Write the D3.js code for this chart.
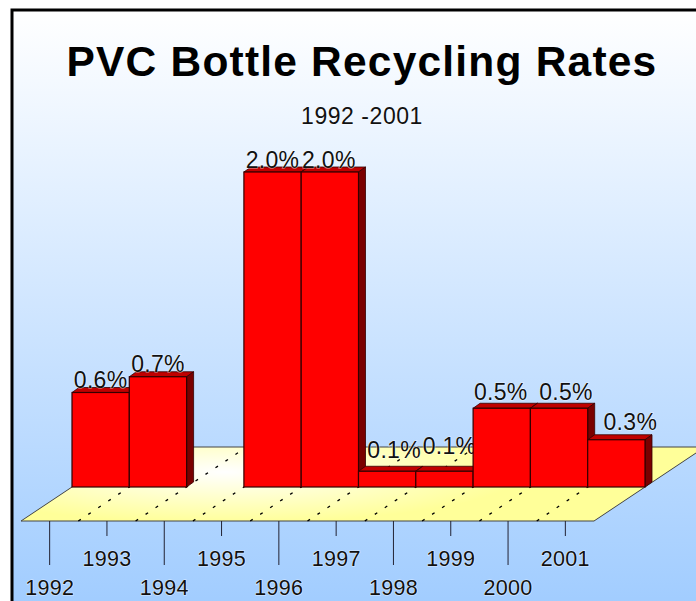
<!DOCTYPE html>
<html lang="en">

<head>
	<meta charset="utf-8">
	<title>PVC Bottle Recycling Rates</title>
	<script src="https://cdn.jsdelivr.net/npm/d3@7"></script>
	<style>
		html, body { margin: 0; padding: 0; background: #fff; overflow: hidden; }
		svg { display: block; }
		text { font-family: "Liberation Sans", Arial, sans-serif; fill: #111; }
		.halo { paint-order: stroke; stroke: #fff; stroke-opacity: 0.6; stroke-width: 1.2px; }
	</style>
</head>

<body>
	<script>
		const years = ["1992", "1993", "1994", "1995", "1996", "1997", "1998", "1999", "2000", "2001"];
		const rates = [0.6, 0.7, 0, 2.0, 2.0, 0.1, 0.1, 0.5, 0.5, 0.3];
		const rateLabels = ["0.6%", "0.7%", "", "2.0%", "2.0%", "0.1%", "0.1%", "0.5%", "0.5%", "0.3%"];
		const chartTitle = "PVC Bottle Recycling Rates";
		const chartSubtitle = "1992 -2001";

		const w = 696, h = 601;

		// bars stand half way back on the floor, floor front edge is lower left
		const barLeft = 72, barRight = 645, baseY = 487;
		const floorFrontY = 521, floorBackY = 447;
		const skew = 1.5;                 // dx per dy of the receding edges
		const depthX = 7, depthY = 5;     // depth of a bar

		const xScale = d3.scaleBand().domain(years).range([barLeft, barRight]);
		const yScale = d3.scaleLinear().domain([0, 2]).range([baseY, 172]);
		const frontShift = (floorFrontY - baseY) * skew;
		const xFront = d3.scaleBand().domain(years).range([barLeft - frontShift, barRight - frontShift]);

		const svg = d3.select("body").append("svg")
			.attr("width", w)
			.attr("height", h);

		const defs = svg.append("defs");

		const bg = defs.append("linearGradient")
			.attr("id", "bg")
			.attr("x1", 0).attr("y1", 0).attr("x2", 0).attr("y2", 1);
		bg.append("stop").attr("offset", "0%").attr("stop-color", "#ffffff");
		bg.append("stop").attr("offset", "100%").attr("stop-color", "#a0ccff");

		const floorFill = defs.append("radialGradient")
			.attr("id", "floorFill")
			.attr("gradientUnits", "userSpaceOnUse")
			.attr("cx", 225).attr("cy", 472).attr("r", 300)
			.attr("gradientTransform", "translate(225 472) scale(1 0.17) translate(-225 -472)");
		floorFill.append("stop").attr("offset", "0%").attr("stop-color", "#ffffff");
		floorFill.append("stop").attr("offset", "100%").attr("stop-color", "#ffff99");

		// background with the heavy frame on top and left
		svg.append("rect")
			.attr("x", 12).attr("y", 10)
			.attr("width", w).attr("height", h)
			.attr("fill", "url(#bg)")
			.attr("stroke", "#000")
			.attr("stroke-width", 3);

		svg.append("text")
			.attr("x", 362).attr("y", 76)
			.attr("text-anchor", "middle")
			.attr("font-size", "42.5px")
			.attr("font-weight", "bold")
			.attr("letter-spacing", "1.2px")
			.style("fill", "#000")
			.text(chartTitle);

		svg.append("text")
			.attr("class", "halo")
			.attr("x", 362).attr("y", 124)
			.attr("text-anchor", "middle")
			.attr("font-size", "23px")
			.attr("letter-spacing", "0.55px")
			.text(chartSubtitle);

		// floor
		const floorLeft = barLeft - frontShift;
		const floorRight = barRight - frontShift;
		const backShift = (floorFrontY - floorBackY) * skew;
		svg.append("polygon")
			.attr("points", [
				[floorLeft, floorFrontY],
				[floorRight, floorFrontY],
				[floorRight + backShift, floorBackY],
				[floorLeft + backShift, floorBackY]
			].join(" "))
			.attr("fill", "url(#floorFill)")
			.attr("stroke", "#444")
			.attr("stroke-width", 1);

		// dashed grid lines going back over the floor
		svg.selectAll(".floor-grid")
			.data(years.slice(1))
			.enter()
			.append("line")
			.attr("class", "floor-grid")
			.attr("x1", d => xFront(d))
			.attr("y1", floorFrontY)
			.attr("x2", d => xFront(d) + backShift)
			.attr("y2", floorBackY)
			.attr("stroke", "#000")
			.attr("stroke-width", 1.3)
			.attr("stroke-dasharray", "3 9");

		// axis, ticks alternate long and short
		const axis = svg.append("g")
			.attr("transform", `translate(0,${floorFrontY})`)
			.call(d3.axisBottom(xFront).tickSize(0).tickPadding(0));
		axis.select(".domain").remove();
		axis.selectAll(".tick line")
			.attr("y2", (d, i) => i % 2 ? 15 : 44)
			.attr("stroke", "#223");
		axis.selectAll(".tick text")
			.attr("class", "halo")
			.attr("dy", 0)
			.attr("y", (d, i) => i % 2 ? 45 : 74)
			.attr("font-family", null)
			.attr("font-size", "21.5px")
			.attr("letter-spacing", "0.3px");

		// the original moves a few labels around so they don't collide: [dx, gap above the bar]
		const labelNudge = {
			"1992": [0, 5], "1993": [0, 5], "1995": [0, 4], "1996": [-1, 4], "1997": [7, 13],
			"1998": [5, 17], "1999": [-1, 8], "2000": [7, 8], "2001": [14, 10]
		};

		// bars, drawn left to right so each front covers the last side and label
		const bars = svg.selectAll(".bar")
			.data(years.map((year, i) => ({ year, rate: rates[i], label: rateLabels[i] })).filter(d => d.rate > 0))
			.enter()
			.append("g")
			.attr("class", "bar");

		bars.append("polygon")
			.attr("points", d => {
				const x0 = xScale(d.year), x1 = x0 + xScale.bandwidth(), y = yScale(d.rate);
				return [[x0, y], [x0 + depthX, y - depthY], [x1 + depthX, y - depthY], [x1, y]].join(" ");
			})
			.attr("fill", "#c00000")
			.attr("stroke", "#300")
			.attr("stroke-width", 0.8);

		bars.append("polygon")
			.attr("points", d => {
				const x1 = xScale(d.year) + xScale.bandwidth(), y = yScale(d.rate);
				return [[x1, y], [x1 + depthX, y - depthY], [x1 + depthX, baseY - depthY], [x1, baseY]].join(" ");
			})
			.attr("fill", "#7a0000")
			.attr("stroke", "#300")
			.attr("stroke-width", 0.8);

		bars.append("rect")
			.attr("x", d => xScale(d.year))
			.attr("y", d => yScale(d.rate))
			.attr("width", xScale.bandwidth())
			.attr("height", d => baseY - yScale(d.rate))
			.attr("fill", "#ff0000")
			.attr("stroke", "#300")
			.attr("stroke-width", 1.2);

		bars.append("text")
			.attr("class", "rate-label halo")
			.attr("x", d => xScale(d.year) + xScale.bandwidth() / 2 + labelNudge[d.year][0])
			.attr("y", d => yScale(d.rate) - labelNudge[d.year][1])
			.attr("text-anchor", "middle")
			.attr("font-size", "23px")
			.attr("letter-spacing", "0.3px")
			.text(d => d.label);
	</script>
</body>

</html>
